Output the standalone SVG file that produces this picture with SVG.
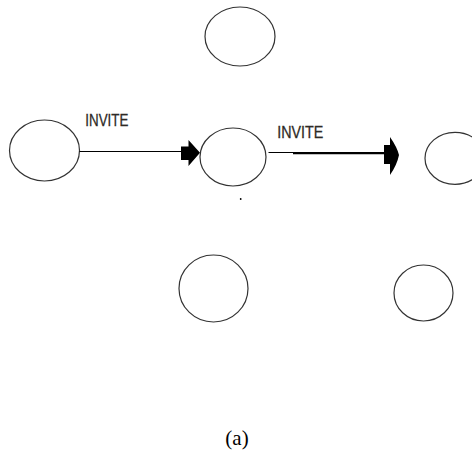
<svg xmlns="http://www.w3.org/2000/svg" width="472" height="452" viewBox="0 0 472 452">
<style>
.node{fill:none;stroke:#333;stroke-width:1.2}
.lbl{font-family:"Liberation Sans",Arial,sans-serif;font-size:17px;fill:#2e2a26;stroke:#2e2a26;stroke-width:0.3}
.cap{font-family:"Liberation Serif","Times New Roman",serif;font-size:21px;fill:#000}
.edge{stroke:#000;fill:none}
.head{fill:#000;stroke:none}
</style>
<rect width="472" height="452" fill="#fff"/>
<g id="node-top"><ellipse class="node" cx="240" cy="36.5" rx="35" ry="29.5"/></g>
<g id="node-left"><ellipse class="node" cx="44.5" cy="150.5" rx="35" ry="30.5"/></g>
<g id="node-mid"><ellipse class="node" cx="233" cy="157" rx="33" ry="29"/></g>
<g id="node-right"><ellipse class="node" cx="455" cy="158.3" rx="30" ry="26"/></g>
<g id="node-bl"><ellipse class="node" cx="213.5" cy="288.5" rx="34.5" ry="33.5"/></g>
<g id="node-br"><ellipse class="node" cx="423.5" cy="293" rx="29.5" ry="28"/></g>
<g id="connectors">
<line class="edge" x1="79.5" y1="151.5" x2="182" y2="151.5" stroke-width="1.2"/>
<polygon class="head" points="181,146.5 188.5,146.5 188.5,140 200,152.8 188.5,166 188.5,160 181,160"/>
<line class="edge" x1="268.5" y1="152.5" x2="293" y2="152.5" stroke-width="1"/>
<line class="edge" x1="293" y1="153.2" x2="385" y2="153.2" stroke-width="2.2"/>
<path class="head" d="M384,145 L390,145 L390,137 Q397,147 399,155 Q397,165 390,175 L390,164 L384,164 Z"/>
</g>
<text class="lbl" x="85.3" y="125.7" textLength="43" lengthAdjust="spacingAndGlyphs">INVITE</text>
<text class="lbl" x="277.3" y="138" textLength="46" lengthAdjust="spacingAndGlyphs">INVITE</text>
<circle cx="240.7" cy="199" r="0.9" fill="#000"/>
<text class="cap" x="237" y="445" text-anchor="middle">(a)</text>
</svg>
